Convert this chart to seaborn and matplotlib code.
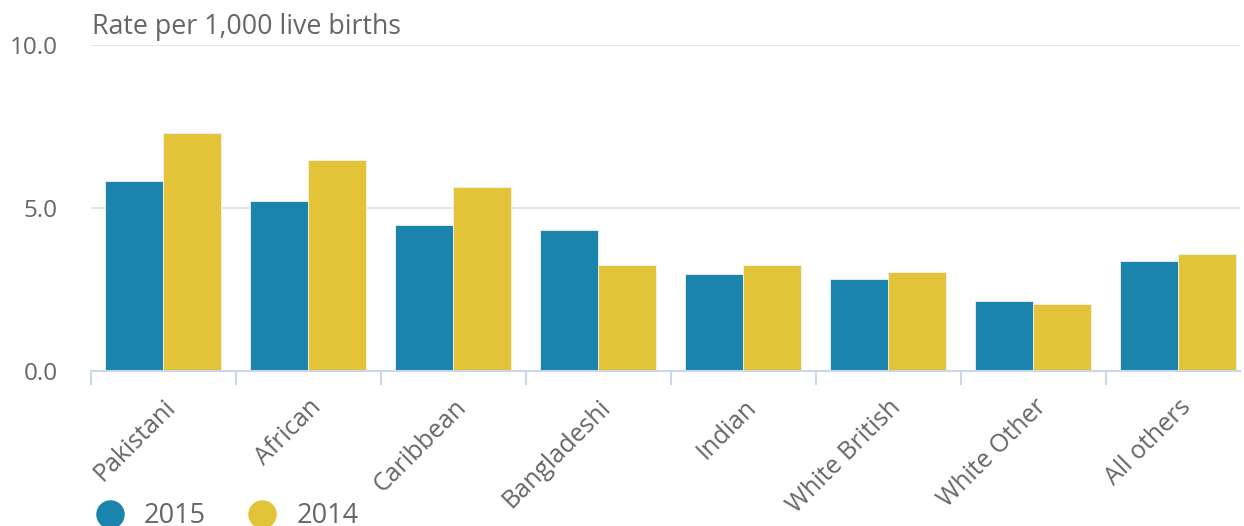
import matplotlib
matplotlib.use("Agg")
import matplotlib.pyplot as plt
import seaborn as sns
import pandas as pd
from matplotlib.lines import Line2D
from matplotlib.ticker import FixedLocator

categories = ["Pakistani", "African", "Caribbean", "Bangladeshi", "Indian",
              "White British", "White Other", "All others"]
rate_2015 = [5.84, 5.22, 4.47, 4.34, 2.98, 2.83, 2.15, 3.38]
rate_2014 = [7.29, 6.46, 5.63, 3.25, 3.25, 3.04, 2.07, 3.59]
series = ["2015", "2014"]
colors = ["#1a84ad", "#e3c337"]
yticks = [0.0, 5.0, 10.0]

df = pd.DataFrame({
    "category": categories * 2,
    "rate": rate_2015 + rate_2014,
    "year": ["2015"] * len(categories) + ["2014"] * len(categories),
})

sns.set_style("white")
plt.rcParams["font.family"] = ["Open Sans", "DejaVu Sans"]
txt = "#666666"

fig = plt.figure(figsize=(12.44, 5.26), dpi=100)
W, H = 1244, 526
ax = fig.add_axes([91 / W, 1 - 371 / H, (1240 - 91) / W, (371 - 45) / H])

sns.barplot(data=df, x="category", y="rate", hue="year", hue_order=series,
            palette=colors, width=0.8, ax=ax, legend=False,
            edgecolor="#f2f2f2", linewidth=0.6, saturation=1)

ax.set_ylim(0, 10)
ax.set_xlim(-0.5, 7.5 - 11 / 145.2)
ax.set_yticks(yticks)
ax.set_yticklabels([f"{v:.1f}" for v in yticks])
ax.yaxis.grid(True, color="#e3e3e3", linewidth=1.3)
ax.set_axisbelow(True)
for s in ["top", "right", "left"]:
    ax.spines[s].set_visible(False)
ax.spines["bottom"].set_color("#ccd6eb")
ax.spines["bottom"].set_linewidth(1.5)

ax.tick_params(axis="y", left=False, length=0, pad=24, labelsize=17.5, labelcolor=txt)

ax.set_xticks(range(len(categories)))
ax.set_xticklabels(categories, rotation=45, ha="right", rotation_mode="anchor")
ax.xaxis.set_minor_locator(FixedLocator([i - 0.5 for i in range(len(categories) + 1)]))
ax.tick_params(axis="x", which="minor", bottom=True, length=10, width=1.5, color="#ccd6eb")
ax.tick_params(axis="x", which="major", bottom=True, length=0, pad=17, labelsize=18, labelcolor=txt)
ax.set_xlabel("")
ax.set_ylabel("")

fig.text(92 / W, 1 - 27 / H, "Rate per 1,000 live births", fontsize=19.3,
         color=txt, va="center", ha="left")

handles = [Line2D([], [], marker="o", linestyle="none", markersize=19.5,
                  markerfacecolor=c, markeredgecolor=c) for c in colors]
leg = fig.legend(handles, series, loc="center left",
                 bbox_to_anchor=(96 / W, 10 / H), ncol=2, frameon=False,
                 fontsize=19.5, handletextpad=0.75, columnspacing=1.6,
                 labelcolor=txt, borderpad=0, borderaxespad=0, handlelength=1.0)

fig.savefig("out.png", dpi=100)
